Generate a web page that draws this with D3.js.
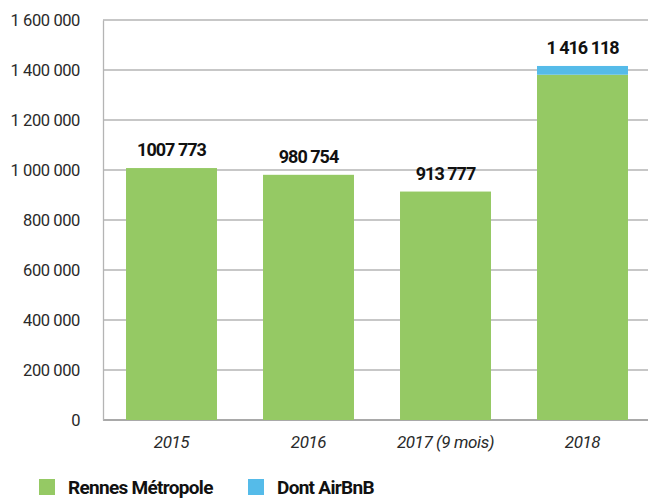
<!DOCTYPE html>
<html>
<head>
<meta charset="utf-8">
<script src="https://cdn.jsdelivr.net/npm/d3@7"></script>
<style>
  body { margin: 0; background: #fff; }
  text { font-family: Roboto, "Liberation Sans", sans-serif; }
</style>
</head>
<body>
<div id="chart"></div>
<script>
var years = ['2015', '2016', '2017 (9 mois)', '2018']
var rennes = [1007773, 980754, 913777, 1381118]
var airbnb = [0, 0, 0, 35000]
var totals = ['1007 773', '980 754', '913 777', '1 416 118']
var yTicks = [0, 200000, 400000, 600000, 800000, 1000000, 1200000, 1400000, 1600000]
var legendNames = ['Rennes Métropole', 'Dont AirBnB']
var colors = ['#95c964', '#55bbe9']

var width = 648, height = 498
var margin = {left: 103, right: 0, top: 20, bottom: 78}

var svg = d3.select('#chart').append('svg')
  .attr('width', width).attr('height', height)

var x = d3.scaleBand().domain(years)
  .range([margin.left, 651])
  .paddingInner(0.336).paddingOuter(0.168)

var y = d3.scaleLinear().domain([0, 1600000]).range([height - margin.bottom, margin.top])

var fmt = function(d){ return d3.format(',')(d).replace(/,/g, ' ') }

// grid
svg.append('g').selectAll('line').data(yTicks).join('line')
  .attr('x1', margin.left).attr('x2', width)
  .attr('y1', function(d){ return y(d) }).attr('y2', function(d){ return y(d) })
  .attr('stroke', function(d){ return d == 0 ? '#8c8c8c' : '#b4b4b4' })
  .attr('stroke-width', 1.3)

// y axis labels
var yAxis = svg.append('g').attr('transform', 'translate(' + margin.left + ',0)')
  .call(d3.axisLeft(y).tickValues(yTicks).tickFormat(fmt).tickSize(0).tickPadding(23))
yAxis.select('.domain').attr('stroke', '#b4b4b4').attr('stroke-width', 1.3)
yAxis.selectAll('text').attr('font-size', 16.5).attr('font-weight', 400)
  .attr('letter-spacing', -0.4).attr('fill', '#2a2a2a')

// bars
var stack = years.map(function(d, i){ return {year: d, r: rennes[i], a: airbnb[i], label: totals[i]} })

svg.append('g').selectAll('rect').data(stack).join('rect')
  .attr('x', function(d){ return x(d.year) })
  .attr('width', x.bandwidth())
  .attr('y', function(d){ return y(d.r) })
  .attr('height', function(d){ return y(0) - y(d.r) })
  .attr('fill', colors[0])

svg.append('g').selectAll('rect').data(stack.filter(function(d){ return d.a > 0 })).join('rect')
  .attr('x', function(d){ return x(d.year) })
  .attr('width', x.bandwidth())
  .attr('y', function(d){ return y(d.r + d.a) })
  .attr('height', function(d){ return y(d.r) - y(d.r + d.a) })
  .attr('fill', colors[1])

// value labels
svg.append('g').selectAll('text').data(stack).join('text')
  .attr('x', function(d){ return x(d.year) + x.bandwidth() / 2 })
  .attr('y', function(d){ return y(d.r + d.a) - 12 })
  .attr('text-anchor', 'middle')
  .attr('font-size', 18).attr('font-weight', 700)
  .attr('letter-spacing', -1)
  .attr('fill', '#111')
  .text(function(d){ return d.label })

// x labels
svg.append('g').selectAll('text').data(years).join('text')
  .attr('x', function(d){ return x(d) + x.bandwidth() / 2 })
  .attr('y', 448)
  .attr('text-anchor', 'middle')
  .attr('font-size', 17).attr('font-style', 'italic').attr('font-weight', 400)
  .attr('letter-spacing', -0.4)
  .attr('fill', '#2a2a2a')
  .text(function(d){ return d })

// legend
var legX = [39, 248]
var leg = svg.append('g').selectAll('g').data(legendNames).join('g')
  .attr('transform', function(d, i){ return 'translate(' + legX[i] + ',479)' })
leg.append('rect').attr('width', 16).attr('height', 16)
  .attr('fill', function(d, i){ return colors[i] })
leg.append('text').attr('x', 29).attr('y', 14.5)
  .attr('font-size', 19).attr('font-weight', 700).attr('letter-spacing', -0.7)
  .attr('fill', '#111')
  .text(function(d){ return d })
</script>
</body>
</html>
